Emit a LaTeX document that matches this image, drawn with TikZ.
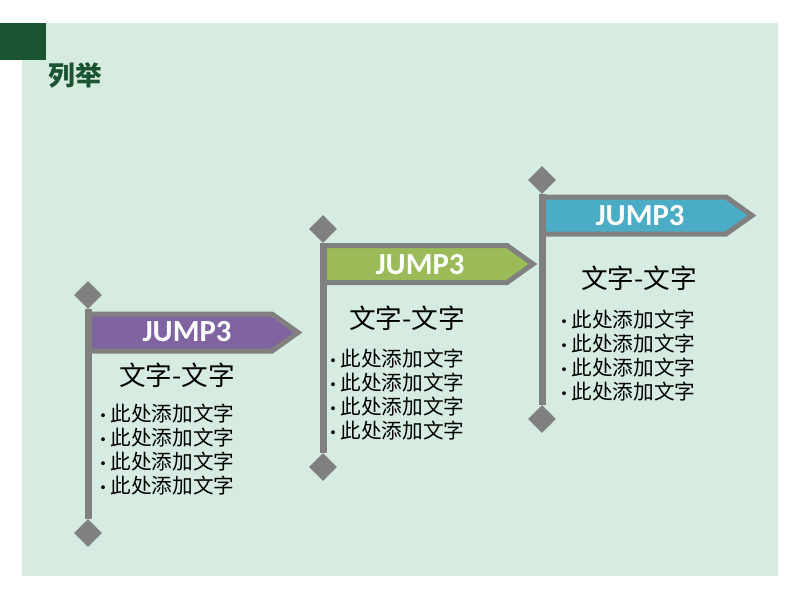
\documentclass[tikz,border=0pt]{standalone}
\usepackage{fontspec}
\newfontfamily\cjk{Noto Sans CJK SC}
\newfontfamily\jumpfont{Carlito}
\usetikzlibrary{shapes.geometric}
\definecolor{bgmint}{RGB}{214,236,224}
\definecolor{darkgreen}{RGB}{27,84,51}
\definecolor{polegray}{RGB}{128,128,128}
\definecolor{jpurple}{RGB}{128,100,162}
\definecolor{jgreen}{RGB}{155,187,89}
\definecolor{jblue}{RGB}{75,172,198}

\newcommand{\dotitem}{{\jumpfont\bfseries·}\hspace{3.5pt}此处添加文字}

\tikzset{
  knob/.style={diamond, fill=polegray, inner sep=0pt, minimum width=21pt, minimum height=21pt},
  pole/.style={draw=polegray, line width=5.25pt},
  flagline/.style={draw=polegray, line width=3.75pt, line join=miter},
  jump/.style={text=white, font=\jumpfont\bfseries\fontsize{23}{27}\selectfont},
  head/.style={font=\cjk\fontsize{20}{24}\selectfont},
  items/.style={font=\cjk\fontsize{15.5}{18}\selectfont, align=left, anchor=west, inner sep=0pt},
}

\begin{document}
\begin{tikzpicture}[x=0.75pt, y=-0.75pt]
    \useasboundingbox (0,0) rectangle (800,600);
    \def\w{184};
    \def\t{210};
    \def\h{37};
    % background and title
    \fill[bgmint] (22,23) rectangle (778,576);
    \fill[darkgreen] (0,23) rectangle (46,60);
    \node[text=darkgreen, font=\cjk\bfseries\fontsize{20}{24}\selectfont] at (75,75) (title) {列举};
    % flag 1
    \def\px{88};
    \def\py{314};
    \draw[flagline, fill=jpurple] (\px,\py) -- (\px+\w,\py) -- (\px+\t,\py+0.5*\h) -- (\px+\w,\py+\h) -- (\px,\py+\h) -- cycle;
    \node[knob] at (\px, 295) (K1a) {};
    \node[knob] at (\px, 533) (K1b) {};
    \draw[pole] (K1a) -- (K1b);
    \node[jump] at (187, 332) (J1) {JUMP3};
    \node[head] at (177, 375) (H1) {文字-文字};
    \node[items] at (100, 450) (L1) {\dotitem\\\dotitem\\\dotitem\\\dotitem};
    % flag 2
    \def\px{323};
    \def\py{245.5};
    \draw[flagline, fill=jgreen] (\px,\py) -- (\px+\w,\py) -- (\px+\t,\py+0.5*\h) -- (\px+\w,\py+\h) -- (\px,\py+\h) -- cycle;
    \node[knob] at (\px, 229) (K2a) {};
    \node[knob] at (\px, 467) (K2b) {};
    \draw[pole] (K2a) -- (K2b);
    \node[jump] at (420, 265) (J2) {JUMP3};
    \node[head] at (407, 318) (H2) {文字-文字};
    \node[items] at (330, 395) (L2) {\dotitem\\\dotitem\\\dotitem\\\dotitem};
    % flag 3
    \def\px{542};
    \def\py{197};
    \draw[flagline, fill=jblue] (\px,\py) -- (\px+\w,\py) -- (\px+\t,\py+0.5*\h) -- (\px+\w,\py+\h) -- (\px,\py+\h) -- cycle;
    \node[knob] at (\px, 180) (K3a) {};
    \node[knob] at (\px, 419) (K3b) {};
    \draw[pole] (K3a) -- (K3b);
    \node[jump] at (640, 216) (J3) {JUMP3};
    \node[head] at (639, 278) (H3) {文字-文字};
    \node[items] at (561, 356) (L3) {\dotitem\\\dotitem\\\dotitem\\\dotitem};
\end{tikzpicture}
\end{document}
